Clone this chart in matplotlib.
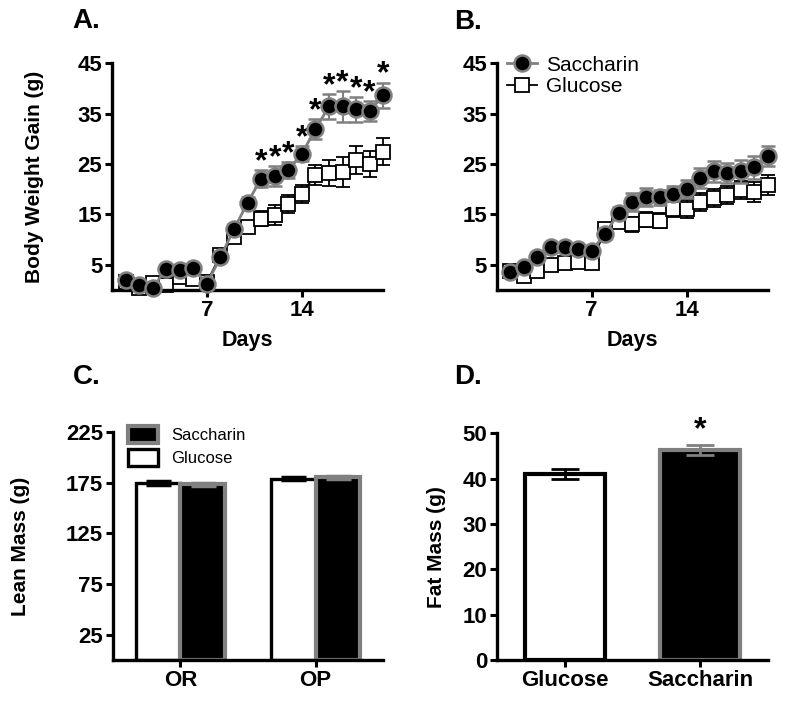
import numpy as np
import matplotlib.pyplot as plt
from matplotlib.patches import Patch
from matplotlib.lines import Line2D

plt.rcParams['font.family'] = ['Liberation Sans', 'DejaVu Sans']
plt.rcParams['font.weight'] = 'bold'

# données
days = np.arange(1, 21)

sacch_A = [1.9, 0.9, 0.4, 4.2, 4.0, 4.3, 1.2, 6.5, 12.1, 17.3,
           22.1, 22.6, 23.8, 27.0, 31.9, 36.4, 36.4, 35.8, 35.5, 38.6]
sacch_A_err = [0.5, 0.5, 0.5, 0.6, 0.6, 0.6, 0.6, 0.8, 1.0, 1.2,
               1.7, 2.0, 1.5, 1.5, 2.0, 2.5, 3.0, 2.5, 2.0, 2.5]
gluc_A = [1.5, 0.4, 1.4, 0.9, 2.5, 2.2, 1.5, 7.0, 10.5, 12.5,
          14.1, 14.8, 17.1, 19.1, 22.8, 23.2, 23.4, 25.8, 25.0, 27.4]
gluc_A_err = [0.5, 0.5, 0.6, 0.6, 0.8, 0.8, 0.8, 1.0, 1.2, 1.2,
              1.5, 2.0, 1.8, 1.8, 2.0, 2.5, 3.0, 2.8, 2.5, 2.7]
stars_A = [11, 12, 13, 14, 15, 16, 17, 18, 19, 20]

sacch_B = [3.6, 4.5, 6.6, 8.6, 8.6, 8.1, 7.8, 11.2, 15.3, 17.5,
           18.4, 18.4, 19.1, 20.1, 22.2, 23.5, 23.2, 23.5, 24.3, 26.6]
sacch_B_err = [0.5, 0.6, 0.7, 0.8, 0.8, 0.8, 0.8, 1.0, 1.2, 1.8,
               1.8, 1.5, 1.5, 1.8, 2.0, 2.0, 2.0, 2.2, 2.2, 2.0]
gluc_B = [3.7, 2.7, 3.8, 5.0, 5.3, 5.5, 5.3, 12.0, 13.5, 13.0,
          13.9, 13.7, 16.0, 16.1, 17.5, 18.3, 18.8, 19.8, 19.4, 20.9]
gluc_B_err = [0.5, 0.6, 0.7, 0.8, 0.8, 0.8, 0.8, 1.0, 1.0, 1.5,
              1.5, 1.5, 1.5, 1.8, 1.8, 1.8, 1.8, 1.8, 2.0, 2.0]

lean_groups = ['OR', 'OP']
lean_gluc = [174.5, 178.5]
lean_gluc_err = [1.5, 1.5]
lean_sacch = [173.5, 180.0]
lean_sacch_err = [1.5, 1.5]

fat_labels = ['Glucose', 'Saccharin']
fat_vals = [41.0, 46.3]
fat_err = [1.1, 1.2]
fat_colors = ['white', 'black']
fat_edges = ['black', '#808080']

GRAY = '#808080'
TICK_FS = 16
YLAB_FS = 15

fig = plt.figure(figsize=(8, 7.09), dpi=100)

def style_axes(ax):
    for s in ['top', 'right']:
        ax.spines[s].set_visible(False)
    for s in ['left', 'bottom']:
        ax.spines[s].set_linewidth(2.4)
    ax.tick_params(width=2.2, length=5, labelsize=TICK_FS, pad=2)
    for lab in ax.get_xticklabels() + ax.get_yticklabels():
        lab.set_fontweight('bold')

def line_panel(ax, sac, sac_err, glu, glu_err):
    ax.errorbar(days, glu, yerr=glu_err, color='black', lw=1.3,
                marker='s', ms=10.5, mfc='white', mec='black', mew=1.3,
                capsize=5, elinewidth=1.3, capthick=1.3, clip_on=False,
                zorder=2)
    ax.errorbar(days, sac, yerr=sac_err, color=GRAY, lw=2,
                marker='o', ms=11.5, mfc='black', mec=GRAY, mew=1.8,
                capsize=5, elinewidth=1.5, capthick=1.5, clip_on=False,
                zorder=3)
    ax.set_xlim(0, 20)
    ax.set_ylim(0, 45)
    ax.set_xticks([7, 14])
    ax.set_yticks([5, 15, 25, 35, 45])
    ax.set_xlabel('Days', fontsize=15.5, fontweight='bold', labelpad=7)
    style_axes(ax)

# A.
axA = fig.add_axes([0.14, 0.591, 0.339, 0.32])
line_panel(axA, sacch_A, sacch_A_err, gluc_A, gluc_A_err)
axA.set_ylabel('Body Weight Gain (g)', fontsize=YLAB_FS, fontweight='bold', labelpad=24)
for d in stars_A:
    i = d - 1
    axA.text(d, sacch_A[i] + sacch_A_err[i] + 1.6, '*', ha='center', va='center',
             fontsize=23, fontweight='bold', clip_on=False)

# B.
axB = fig.add_axes([0.621, 0.591, 0.339, 0.32])
line_panel(axB, sacch_B, sacch_B_err, gluc_B, gluc_B_err)
hs = Line2D([], [], color=GRAY, lw=2, marker='o', ms=11.5, mfc='black', mec=GRAY, mew=1.8)
hg = Line2D([], [], color='black', lw=1.3, marker='s', ms=10.5, mfc='white', mec='black', mew=1.3)
legB = axB.legend([hs, hg], ['Saccharin', 'Glucose'], loc='upper left',
                  bbox_to_anchor=(-0.03, 1.115), frameon=False, fontsize=15,
                  handlelength=1.4, handletextpad=0.45, labelspacing=0.1)
for t in legB.get_texts():
    t.set_fontweight('normal')

# C.
axC = fig.add_axes([0.141, 0.069, 0.338, 0.322])
x = np.arange(len(lean_groups))
w = 0.33
axC.bar(x - w / 2, lean_gluc, w, color='white', edgecolor='black', lw=2.4)
axC.bar(x + w / 2, lean_sacch, w, color='black', edgecolor=GRAY, lw=3)
axC.errorbar(x - w / 2, lean_gluc, yerr=lean_gluc_err, fmt='none', ecolor='black',
             capsize=9, elinewidth=2, capthick=2.5)
axC.errorbar(x + w / 2, lean_sacch, yerr=lean_sacch_err, fmt='none', ecolor=GRAY,
             capsize=9, elinewidth=2, capthick=2.5)
axC.set_xlim(-0.5, 1.5)
axC.set_ylim(0, 225)
axC.set_yticks([25, 75, 125, 175, 225])
axC.set_xticks(x)
axC.set_xticklabels(lean_groups)
axC.set_ylabel('Lean Mass (g)', fontsize=YLAB_FS, fontweight='bold', labelpad=26)
style_axes(axC)
legC = axC.legend([Patch(facecolor='black', edgecolor=GRAY, lw=3),
                   Patch(facecolor='white', edgecolor='black', lw=2.4)],
                  ['Saccharin', 'Glucose'], loc='upper left',
                  bbox_to_anchor=(0.0, 1.09), frameon=False, fontsize=12,
                  handlelength=1.8, handleheight=1.2, handletextpad=0.8,
                  labelspacing=0.35)
for t in legC.get_texts():
    t.set_fontweight('normal')

# D.
axD = fig.add_axes([0.621, 0.069, 0.339, 0.32])
xd = np.arange(len(fat_labels))
axD.bar(xd, fat_vals, 0.59, color=fat_colors, edgecolor=fat_edges, lw=3)
for i in range(len(xd)):
    axD.errorbar(xd[i], fat_vals[i], yerr=fat_err[i], color=fat_edges[i],
                 capsize=10, elinewidth=2, capthick=2)
axD.text(xd[1], fat_vals[1] + fat_err[1] + 3.2, '*', ha='center', va='center',
         fontsize=23, fontweight='bold', clip_on=False)
axD.set_xlim(-0.5, 1.5)
axD.set_ylim(0, 50)
axD.set_yticks([0, 10, 20, 30, 40, 50])
axD.set_xticks(xd)
axD.set_xticklabels(fat_labels)
axD.set_ylabel('Fat Mass (g)', fontsize=YLAB_FS, fontweight='bold', labelpad=12)
style_axes(axD)

# lettres des panneaux
fig.text(0.091, 0.971, 'A.', fontsize=20, fontweight='bold', va='center')
fig.text(0.568, 0.969, 'B.', fontsize=20, fontweight='bold', va='center')
fig.text(0.091, 0.468, 'C.', fontsize=20, fontweight='bold', va='center')
fig.text(0.568, 0.468, 'D.', fontsize=20, fontweight='bold', va='center')

fig.savefig('out.png', dpi=100)
